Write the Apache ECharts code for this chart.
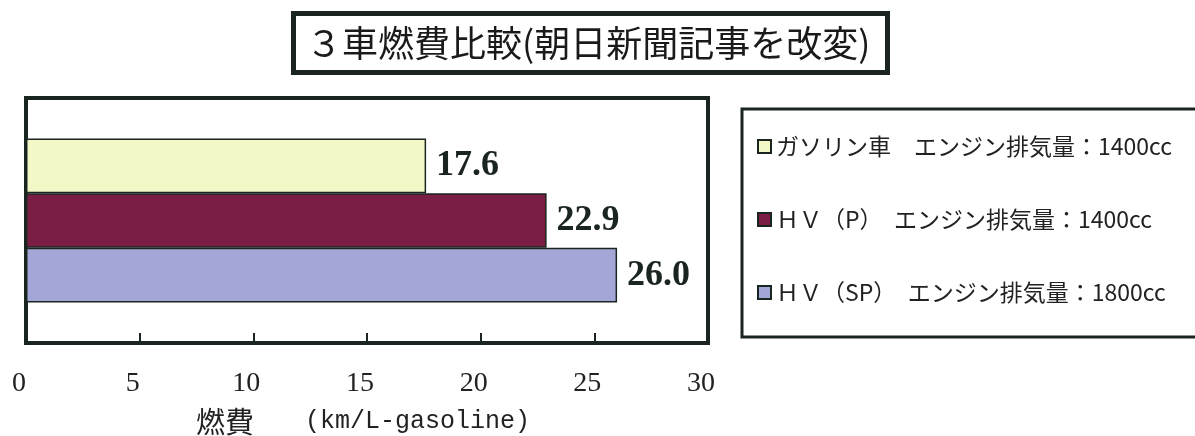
<!DOCTYPE html>
<html>
<head>
<meta charset="utf-8">
<script src="https://cdn.jsdelivr.net/npm/echarts@6/dist/echarts.min.js"></script>
<style>
  html, body { margin: 0; padding: 0; background: #ffffff; }
  #chart { width: 1195px; height: 436px; }
</style>
</head>
<body>
<div id="chart"></div>
<script>
// Fuel economy of three cars (km/L)
const categories = ['燃費'];
const seriesNames = [
  'ガソリン車　エンジン排気量：1400cc',
  'ＨＶ（P）　エンジン排気量：1400cc',
  'ＨＶ（SP）　エンジン排気量：1800cc'
];
const gasolineValues = [17.6];
const hvPValues = [22.9];
const hvSPValues = [26.0];
const seriesValues = [gasolineValues, hvPValues, hvSPValues];
const seriesColors = ['#f4f8c6', '#7a1e46', '#a3a7d8'];

const axisMin = 0;
const axisMax = 30;
const axisInterval = 5;

const ink = '#1b2520';

const chart = echarts.init(document.getElementById('chart'), null, { renderer: 'canvas' });

const option = {
  backgroundColor: '#ffffff',
  animation: false,
  title: {
    text: '３車燃費比較(朝日新聞記事を改変)',
    left: 293,
    top: 14,
    padding: [12, 17, 12, 13],
    borderColor: ink,
    borderWidth: 5,
    textStyle: {
      fontFamily: 'Noto Sans CJK JP',
      fontSize: 36,
      fontWeight: 'normal',
      color: '#1a1a1a',
      lineHeight: 34
    }
  },
  legend: {
    orient: 'vertical',
    left: 742,
    top: 109,
    padding: [26, 120, 33, 15],
    itemGap: 50,
    itemWidth: 13,
    itemHeight: 13,
    icon: 'rect',
    borderColor: ink,
    borderWidth: 3,
    data: seriesNames,
    textStyle: {
      fontFamily: 'Noto Sans CJK JP',
      fontSize: 23,
      lineHeight: 23,
      color: '#222222'
    }
  },
  grid: {
    left: 26,
    right: 1195 - 708,
    top: 98,
    bottom: 93,
    outerBoundsMode: 'none',
    containLabel: false,
    show: true,
    borderColor: ink,
    borderWidth: 4,
    backgroundColor: 'transparent'
  },
  xAxis: {
    type: 'value',
    min: axisMin,
    max: axisMax,
    interval: axisInterval,
    splitLine: { show: false },
    axisLine: { show: true, lineStyle: { color: ink, width: 4 } },
    axisTick: { show: true, inside: true, length: 10, lineStyle: { color: ink, width: 2 } },
    axisLabel: {
      margin: 27,
      padding: [0, 14, 0, 0],
      fontFamily: 'Liberation Serif',
      fontSize: 28,
      color: '#222222'
    },
    name: '{a|燃費}{b|(km/L-gasoline)}',
    nameLocation: 'middle',
    nameGap: 64,
    nameTextStyle: {
      padding: [0, 8, 0, 0],
      rich: {
        a: { fontFamily: 'Noto Sans CJK JP', fontSize: 29, color: '#222222', padding: [0, 51, 0, 0] },
        b: { fontFamily: 'Liberation Mono', fontSize: 25, color: '#222222' }
      }
    }
  },
  yAxis: {
    type: 'category',
    data: categories,
    inverse: true,
    axisLine: { show: false },
    axisTick: { show: false },
    axisLabel: { show: false },
    splitLine: { show: false }
  },
  series: seriesNames.map((name, i) => ({
    name: name,
    type: 'bar',
    data: seriesValues[i],
    barGap: '0%',
    barCategoryGap: '33%',
    itemStyle: {
      color: seriesColors[i],
      borderColor: ink,
      borderWidth: 1.5
    },
    label: {
      show: true,
      position: 'right',
      distance: 10,
      fontFamily: 'Liberation Serif',
      fontWeight: 'bold',
      fontSize: 36,
      color: ink,
      formatter: p => p.value.toFixed(1)
    }
  }))
};

chart.setOption(option);
</script>
</body>
</html>
